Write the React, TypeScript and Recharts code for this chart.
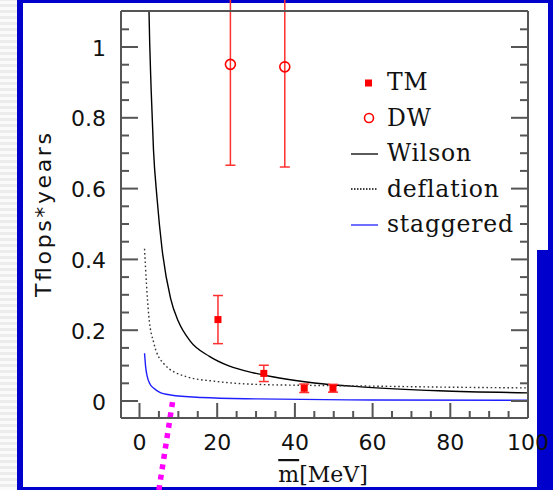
import React from 'react';
import {
  ComposedChart,
  Line,
  Scatter,
  XAxis,
  YAxis,
  ErrorBar,
  Legend,
  ReferenceLine,
} from 'recharts';

// cost curves: m = mass in MeV, v = Tflops*years
const wilson = [
  { m: 2.3, v: 1.2 },
  { m: 2.45, v: 1.1 },
  { m: 3.0, v: 0.88 },
  { m: 3.6, v: 0.71 },
  { m: 4.5, v: 0.575 },
  { m: 5.8, v: 0.43 },
  { m: 8, v: 0.29 },
  { m: 10, v: 0.225 },
  { m: 13, v: 0.17 },
  { m: 18, v: 0.126 },
  { m: 23, v: 0.099 },
  { m: 30, v: 0.078 },
  { m: 36, v: 0.065 },
  { m: 45, v: 0.051 },
  { m: 57, v: 0.04 },
  { m: 77, v: 0.029 },
  { m: 100, v: 0.023 },
];

const deflation = [
  { m: 1.3, v: 0.43 },
  { m: 1.8, v: 0.33 },
  { m: 2.4, v: 0.24 },
  { m: 3.7, v: 0.163 },
  { m: 6.2, v: 0.106 },
  { m: 12, v: 0.069 },
  { m: 20, v: 0.055 },
  { m: 30, v: 0.047 },
  { m: 45, v: 0.044 },
  { m: 60, v: 0.042 },
  { m: 80, v: 0.039 },
  { m: 100, v: 0.037 },
];

const staggered = [
  { m: 1.3, v: 0.135 },
  { m: 1.6, v: 0.095 },
  { m: 2.0, v: 0.069 },
  { m: 2.7, v: 0.048 },
  { m: 3.7, v: 0.036 },
  { m: 5, v: 0.026 },
  { m: 8, v: 0.017 },
  { m: 16, v: 0.01 },
  { m: 30, v: 0.006 },
  { m: 60, v: 0.003 },
  { m: 100, v: 0.002 },
];

const tm = [
  { m: 20.2, v: 0.23, err: 0.068 },
  { m: 32, v: 0.078, err: 0.023 },
  { m: 42.4, v: 0.036, err: 0.012 },
  { m: 49.8, v: 0.036, err: 0.011 },
];

const dw = [
  { m: 23.4, v: 0.951, err: 0.285 },
  { m: 37.4, v: 0.944, err: 0.283 },
];

const xMajor = [0, 20, 40, 60, 80, 100];
const xMinor = [5, 10, 15, 25, 30, 35, 45, 50, 55, 65, 70, 75, 85, 90, 95];
const yMajor = [0, 0.2, 0.4, 0.6, 0.8, 1];
const yMinor = [0.05, 0.1, 0.15, 0.25, 0.3, 0.35, 0.45, 0.5, 0.55, 0.65, 0.7, 0.75, 0.85, 0.9, 0.95, 1.05];

const xTicks = [...xMajor, ...xMinor].sort((a, b) => a - b);
const yTicks = [...yMajor, ...yMinor].sort((a, b) => a - b);

const legendItems = [
  { name: 'TM', kind: 'square' },
  { name: 'DW', kind: 'circle' },
  { name: 'Wilson', kind: 'solid' },
  { name: 'deflation', kind: 'dotted' },
  { name: 'staggered', kind: 'blue' },
];

const axisColor = '#555';
const red = '#ff0000';
const tickFont = '"DejaVu Sans", sans-serif';
const serifFont = '"DejaVu Serif", serif';

const isMajor = (list: number[], v: number) => list.some((t) => Math.abs(t - v) < 1e-9);

const BottomTick = (props: any) => {
  const { x, y, payload } = props;
  const major = isMajor(xMajor, payload.value);
  return (
    <g>
      <line x1={x} x2={x} y1={y} y2={y - (major ? 15 : 7)} stroke={axisColor} strokeWidth={2} />
      {major && (
        <text x={x} y={y + 24} textAnchor="middle" dominantBaseline="central" fontFamily={tickFont} fontSize={22} fill="#111">
          {payload.value}
        </text>
      )}
    </g>
  );
};

const TopTick = (props: any) => {
  const { x, y, payload } = props;
  const major = isMajor(xMajor, payload.value);
  return <line x1={x} x2={x} y1={y} y2={y + (major ? 16 : 8)} stroke={axisColor} strokeWidth={2} />;
};

const LeftTick = (props: any) => {
  const { x, y, payload } = props;
  const major = isMajor(yMajor, payload.value);
  return (
    <g>
      <line x1={x} x2={x + (major ? 17 : 8)} y1={y} y2={y} stroke={axisColor} strokeWidth={2} />
      {major && (
        <text x={x - 15} y={y + 1} textAnchor="end" dominantBaseline="central" fontFamily={tickFont} fontSize={22} fill="#111">
          {String(payload.value)}
        </text>
      )}
    </g>
  );
};

const RightTick = (props: any) => {
  const { x, y, payload } = props;
  const major = isMajor(yMajor, payload.value);
  return <line x1={x} x2={x - (major ? 17 : 8)} y1={y} y2={y} stroke={axisColor} strokeWidth={2} />;
};

const Square = (props: any) => {
  const { cx, cy } = props;
  return <rect x={cx - 3.5} y={cy - 3.5} width={7} height={7} fill={red} />;
};

const Ring = (props: any) => {
  const { cx, cy } = props;
  return <circle cx={cx} cy={cy} r={5} fill="none" stroke={red} strokeWidth={1.6} />;
};

const LegendIcon = ({ kind }: { kind: string }) => (
  <svg width={42} height={20} style={{ flex: 'none' }}>
    {kind === 'square' && <rect x={20} y={6.5} width={7} height={7} fill={red} />}
    {kind === 'circle' && <circle cx={24} cy={10} r={4.5} fill="none" stroke={red} strokeWidth={1.6} />}
    {kind === 'solid' && <line x1={6} x2={33} y1={10} y2={10} stroke="#000" strokeWidth={1.3} />}
    {kind === 'dotted' && <line x1={6} x2={33} y1={10} y2={10} stroke="#000" strokeWidth={1.3} strokeDasharray="1.5 1.5" />}
    {kind === 'blue' && <line x1={6} x2={33} y1={10} y2={10} stroke="#2020ff" strokeWidth={1.3} />}
  </svg>
);

const renderLegend = () => (
  <div>
    {legendItems.map((it) => (
      <div key={it.name} style={{ display: 'flex', alignItems: 'center', height: 35.5 }}>
        <LegendIcon kind={it.kind} />
        <span style={{ fontFamily: serifFont, fontSize: 23.5, letterSpacing: 0.8, color: '#111', lineHeight: '35px' }}>
          {it.name}
        </span>
      </div>
    ))}
  </div>
);

export default function App() {
  return (
    <div style={{ position: 'absolute', left: 0, top: 0, width: 553, height: 490, background: '#0000cc', overflow: 'hidden' }}>
      <div
        style={{
          position: 'absolute',
          left: 0,
          top: 0,
          width: 17,
          height: 490,
          background: '#f2f2f2',
          backgroundImage: 'repeating-linear-gradient(0deg, #fafafa 0 3px, #ececec 3px 6px)',
        }}
      />
      <div style={{ position: 'absolute', left: 23, top: 3, width: 514, height: 484, background: '#fff' }} />
      <div style={{ position: 'absolute', left: 537, top: 3, width: 11, height: 247, background: '#fff' }} />
      <div style={{ position: 'absolute', left: 0, top: 0 }}>
        <ComposedChart width={553} height={490} margin={{ top: 10, right: 24, bottom: 0, left: 0 }}>
          <XAxis
            dataKey="m"
            type="number"
            domain={[-4.76, 100]}
            ticks={xTicks}
            interval={0}
            allowDataOverflow
            height={72}
            tickSize={0}
            tickMargin={0}
            tickLine={false}
            axisLine={{ stroke: axisColor, strokeWidth: 2 }}
            tick={BottomTick}
            label={{
              content: () => (
                <text x={323} y={474} textAnchor="middle" dominantBaseline="central" fontFamily={serifFont} fontSize={22} fill="#111">
                  <tspan style={{ textDecoration: 'overline' }}>m</tspan>
                  <tspan>[MeV]</tspan>
                </text>
              ),
            }}
          />
          <XAxis
            xAxisId="top"
            orientation="top"
            type="number"
            domain={[-4.76, 100]}
            ticks={xTicks}
            interval={0}
            allowDataOverflow
            height={1}
            tickSize={0}
            tickMargin={0}
            tickLine={false}
            axisLine={{ stroke: axisColor, strokeWidth: 2 }}
            tick={TopTick}
          />
          <YAxis
            dataKey="v"
            type="number"
            domain={[-0.048, 1.1017]}
            ticks={yTicks}
            interval={0}
            allowDataOverflow
            width={121}
            tickSize={0}
            tickMargin={0}
            tickLine={false}
            axisLine={{ stroke: axisColor, strokeWidth: 2 }}
            tick={LeftTick}
            label={{
              content: () => (
                <text
                  x={43}
                  y={215}
                  transform="rotate(-90 43 215)"
                  textAnchor="middle"
                  dominantBaseline="central"
                  fontFamily={tickFont}
                  fontSize={22}
                  fill="#111"
                  textLength={164}
                  lengthAdjust="spacing"
                >
                  Tflops*years
                </text>
              ),
            }}
          />
          <YAxis
            yAxisId="right"
            orientation="right"
            type="number"
            domain={[-0.048, 1.1017]}
            ticks={yTicks}
            interval={0}
            allowDataOverflow
            width={1}
            tickSize={0}
            tickMargin={0}
            tickLine={false}
            axisLine={{ stroke: axisColor, strokeWidth: 2 }}
            tick={RightTick}
          />
          <Line data={wilson} dataKey="v" type="monotone" stroke="#000" strokeWidth={1.4} dot={false} isAnimationActive={false} />
          <Line
            data={deflation}
            dataKey="v"
            type="monotone"
            stroke="#333"
            strokeWidth={1.4}
            strokeDasharray="1.6 2.6"
            dot={false}
            isAnimationActive={false}
          />
          <Line data={staggered} dataKey="v" type="monotone" stroke="#2020ff" strokeWidth={1.4} dot={false} isAnimationActive={false} />
          <Scatter data={tm} dataKey="v" shape={Square} isAnimationActive={false}>
            <ErrorBar dataKey="err" direction="y" width={5} stroke="#ff3030" strokeWidth={1.5} />
          </Scatter>
          <Scatter data={dw} dataKey="v" shape={Ring} isAnimationActive={false}>
            <ErrorBar dataKey="err" direction="y" width={5} stroke="#ff3030" strokeWidth={1.5} />
          </Scatter>
          <ReferenceLine
            segment={[
              { x: 8.5, y: -0.003 },
              { x: 4.8, y: -0.265 },
            ]}
            ifOverflow="visible"
            stroke="#ff00ff"
            strokeWidth={5.5}
            strokeDasharray="5 5.5"
          />
          <Legend
            layout="vertical"
            align="center"
            verticalAlign="middle"
            content={renderLegend}
            wrapperStyle={{ left: 345, top: 65, width: 200 }}
          />
        </ComposedChart>
      </div>
    </div>
  );
}
